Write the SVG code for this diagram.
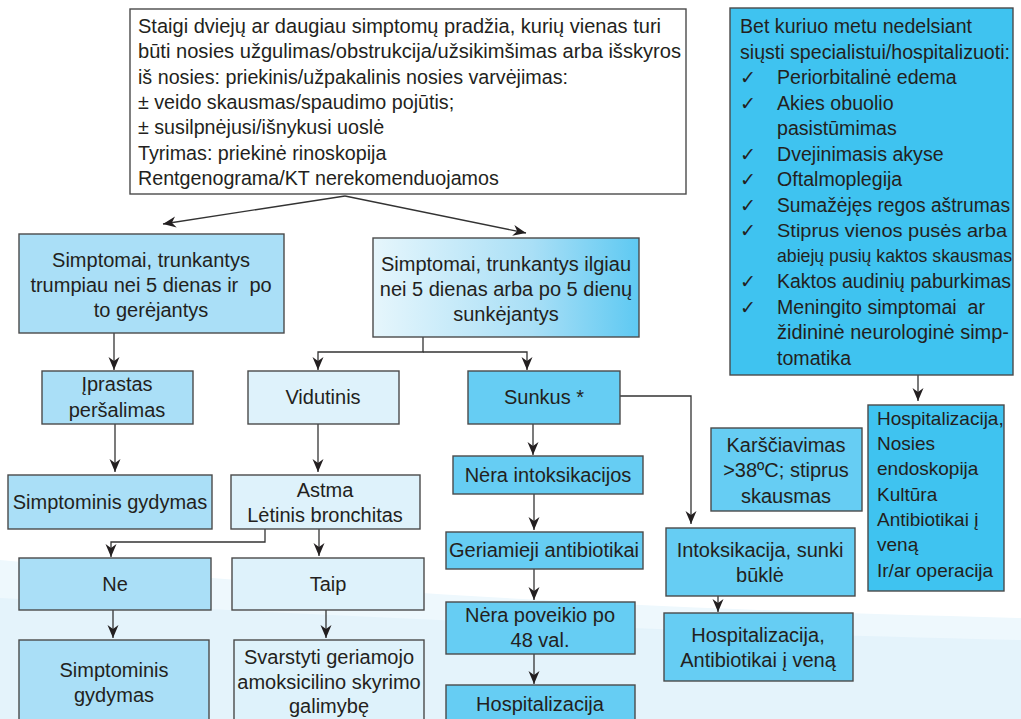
<svg xmlns="http://www.w3.org/2000/svg" width="1021" height="719" viewBox="0 0 1021 719">
<defs>
<style>
text{font-family:"Liberation Sans",Arial,sans-serif;fill:#231f20;font-size:20px}
.c{text-anchor:middle}
.tb{font-size:19.7px}
.p{font-size:19.6px}
.h{font-size:19px}
.box{stroke:#4a4a4a;stroke-width:1.4}
.w{fill:#ffffff}
.l1{fill:#aadff7}
.l0{fill:#def2fb}
.m{fill:#66cdf3}
.s{fill:#3fc3f0}
.con{fill:none;stroke:#333;stroke-width:1.3}
</style>
<linearGradient id="gmid" x1="0" y1="0" x2="1" y2="0">
<stop offset="0" stop-color="#e6f6fc"/>
<stop offset="0.6" stop-color="#a9dff6"/>
<stop offset="1" stop-color="#5ec9f2"/>
</linearGradient>
<marker id="ah" markerUnits="userSpaceOnUse" markerWidth="16" markerHeight="14" viewBox="-14 -7 16 14" refX="0" refY="0" orient="auto">
<path d="M-13,-5.5 L0,0 L-13,5.5 L-9,0 Z" fill="#231f20"/>
</marker>
</defs>
<rect width="1021" height="719" fill="#ffffff"/>
<g id="background">
<path d="M0,560 C250,582 520,606 1021,618 L1021,719 L0,719 Z" fill="#eef8fd"/>
<path d="M0,598 C300,614 600,630 1021,640 L1021,719 L0,719 Z" fill="#e4f3fb"/>
</g>

<g id="connectors">
<line class="con" x1="345" y1="196" x2="163" y2="224" marker-end="url(#ah)"/>
<line class="con" x1="345" y1="196" x2="526" y2="233" marker-end="url(#ah)"/>
<line class="con" x1="114" y1="333" x2="114" y2="370" marker-end="url(#ah)"/>
<polyline class="con" points="423,337 423,352 318,352 318,370" marker-end="url(#ah)"/>
<polyline class="con" points="423,352 527,352 527,370" marker-end="url(#ah)"/>
<line class="con" x1="115" y1="424" x2="115" y2="472" marker-end="url(#ah)"/>
<line class="con" x1="318" y1="424" x2="318" y2="472" marker-end="url(#ah)"/>
<polyline class="con" points="265,529 265,542 111,542 111,557" marker-end="url(#ah)"/>
<line class="con" x1="319" y1="529" x2="319" y2="556" marker-end="url(#ah)"/>
<line class="con" x1="113" y1="610" x2="113" y2="638" marker-end="url(#ah)"/>
<line class="con" x1="326" y1="610" x2="326" y2="638" marker-end="url(#ah)"/>
<line class="con" x1="533" y1="424" x2="533" y2="455" marker-end="url(#ah)"/>
<line class="con" x1="534" y1="494" x2="534" y2="530" marker-end="url(#ah)"/>
<line class="con" x1="534" y1="569" x2="534" y2="600" marker-end="url(#ah)"/>
<line class="con" x1="534" y1="654" x2="534" y2="684" marker-end="url(#ah)"/>
<polyline class="con" points="620,396 691,396 691,524" marker-end="url(#ah)"/>
<line class="con" x1="718" y1="596" x2="718" y2="612" marker-end="url(#ah)"/>
<line class="con" x1="918" y1="375" x2="918" y2="401" marker-end="url(#ah)"/>
</g>

<g id="n-top">
<rect class="box w" x="130" y="9" width="556" height="185"/>
<text class="tb" x="138" y="33" textLength="523" lengthAdjust="spacingAndGlyphs">Staigi dviejų ar daugiau simptomų pradžia, kurių vienas turi</text>
<text class="tb" x="138" y="58" textLength="543" lengthAdjust="spacingAndGlyphs">būti nosies užgulimas/obstrukcija/užsikimšimas arba išskyros</text>
<text class="tb" x="138" y="84">iš nosies: priekinis/užpakalinis nosies varvėjimas:</text>
<text class="tb" x="138" y="109">± veido skausmas/spaudimo pojūtis;</text>
<text class="tb" x="138" y="134">± susilpnėjusi/išnykusi uoslė</text>
<text class="tb" x="138" y="160">Tyrimas: priekinė rinoskopija</text>
<text class="tb" x="138" y="185">Rentgenograma/KT nerekomenduojamos</text>
</g>

<g id="n-panel">
<rect class="box s" x="730" y="8" width="283" height="367"/>
<text class="p" x="740" y="33">Bet kuriuo metu nedelsiant</text>
<text class="p" x="740" y="59" textLength="270" lengthAdjust="spacingAndGlyphs">siųsti specialistui/hospitalizuoti:</text>
<g>
<text class="h" x="740" y="84">✓</text><text class="p" x="777" y="84">Periorbitalinė edema</text>
<text class="h" x="740" y="110">✓</text><text class="p" x="777" y="110">Akies obuolio</text>
<text class="p" x="777" y="135">pasistūmimas</text>
<text class="h" x="740" y="161">✓</text><text class="p" x="777" y="161">Dvejinimasis akyse</text>
<text class="h" x="740" y="186">✓</text><text class="p" x="777" y="186">Oftalmoplegija</text>
<text class="h" x="740" y="212">✓</text><text class="p" x="777" y="212" textLength="233" lengthAdjust="spacingAndGlyphs">Sumažėjęs regos aštrumas</text>
<text class="h" x="740" y="237">✓</text><text x="777" y="237" style="font-size:18.5px" textLength="230" lengthAdjust="spacingAndGlyphs">Stiprus vienos pusės arba</text>
<text x="777" y="262" style="font-size:18.5px" textLength="235" lengthAdjust="spacingAndGlyphs">abiejų pusių kaktos skausmas</text>
<text class="h" x="740" y="288">✓</text><text class="p" x="777" y="288" textLength="234" lengthAdjust="spacingAndGlyphs">Kaktos audinių paburkimas</text>
<text class="h" x="740" y="314">✓</text><text class="p" x="777" y="314" xml:space="preserve">Meningito simptomai  ar</text>
<text class="p" x="777" y="339" textLength="232" lengthAdjust="spacingAndGlyphs">židininė neurologinė simp-</text>
<text class="p" x="777" y="365">tomatika</text>
</g>
</g>

<g id="n-short">
<rect class="box l1" x="19" y="234" width="265" height="99"/>
<text class="c" x="151" y="267">Simptomai, trunkantys</text>
<text class="c" x="151" y="292" xml:space="preserve">trumpiau nei 5 dienas ir  po</text>
<text class="c" x="151" y="317">to gerėjantys</text>
</g>

<g id="n-long">
<rect class="box" fill="url(#gmid)" x="373" y="238" width="266" height="99"/>
<text class="c" x="506" y="271">Simptomai, trunkantys ilgiau</text>
<text class="c" x="506" y="296">nei 5 dienas arba po 5 dienų</text>
<text class="c" x="506" y="321">sunkėjantys</text>
</g>

<g id="n-iprastas">
<rect class="box l1" x="42" y="371" width="151" height="53"/>
<text class="c" x="117" y="391">Įprastas</text>
<text class="c" x="117" y="417">peršalimas</text>
</g>

<g id="n-vidutinis">
<rect class="box l0" x="248" y="371" width="151" height="53"/>
<text class="c" x="323" y="404">Vidutinis</text>
</g>

<g id="n-sunkus">
<rect class="box m" x="468" y="371" width="152" height="53"/>
<text class="c" x="544" y="404">Sunkus *</text>
</g>

<g id="n-simpt1">
<rect class="box l1" x="8" y="475" width="204" height="54"/>
<text class="c" x="110" y="509">Simptominis gydymas</text>
</g>

<g id="n-astma">
<rect class="box l0" x="231" y="475" width="189" height="54"/>
<text class="c" x="325" y="497">Astma</text>
<text class="c" x="325" y="522">Lėtinis bronchitas</text>
</g>

<g id="n-ne">
<rect class="box l1" x="19" y="558" width="192" height="52"/>
<text class="c" x="115" y="591">Ne</text>
</g>

<g id="n-taip">
<rect class="box l0" x="232" y="558" width="192" height="52"/>
<text class="c" x="328" y="591">Taip</text>
</g>

<g id="n-simpt2">
<rect class="box l1" x="19" y="640" width="190" height="90"/>
<text class="c" x="114" y="677">Simptominis</text>
<text class="c" x="114" y="702">gydymas</text>
</g>

<g id="n-svarstyti">
<rect class="box l0" x="234" y="640" width="190" height="90"/>
<text class="c" x="329" y="664">Svarstyti geriamojo</text>
<text class="c" x="329" y="689">amoksicilino skyrimo</text>
<text class="c" x="329" y="713">galimybę</text>
</g>

<g id="n-nera-intoks">
<rect class="box m" x="453" y="456" width="190" height="38"/>
<text class="c" x="548" y="482">Nėra intoksikacijos</text>
</g>

<g id="n-geriamieji">
<rect class="box m" x="446" y="532" width="197" height="37"/>
<text class="c" x="544" y="557">Geriamieji antibiotikai</text>
</g>

<g id="n-nera-poveikio">
<rect class="box m" x="446" y="602" width="189" height="52"/>
<text class="c" x="540" y="622">Nėra poveikio po</text>
<text class="c" x="540" y="647">48 val.</text>
</g>

<g id="n-hosp1">
<rect class="box m" x="446" y="685" width="189" height="45"/>
<text class="c" x="540" y="711">Hospitalizacija</text>
</g>

<g id="n-karsciavimas">
<rect class="box m" x="711" y="428" width="151" height="83"/>
<text class="c" x="786" y="452">Karščiavimas</text>
<text class="c" x="786" y="477">&gt;38ºC; stiprus</text>
<text class="c" x="786" y="503">skausmas</text>
</g>

<g id="n-intoks">
<rect class="box m" x="666" y="528" width="189" height="68"/>
<text class="c" x="760" y="557">Intoksikacija, sunki</text>
<text class="c" x="760" y="582">būklė</text>
</g>

<g id="n-hosp2">
<rect class="box m" x="664" y="613" width="189" height="68"/>
<text class="c" x="758" y="642">Hospitalizacija,</text>
<text class="c" x="758" y="667">Antibiotikai į veną</text>
</g>

<g id="n-hosp3">
<rect class="box s" x="868" y="405" width="136" height="186"/>
<text class="h" x="877" y="425">Hospitalizacija,</text>
<text class="h" x="877" y="450">Nosies</text>
<text class="h" x="877" y="475">endoskopija</text>
<text class="h" x="877" y="501">Kultūra</text>
<text class="h" x="877" y="526">Antibiotikai į</text>
<text class="h" x="877" y="551">veną</text>
<text class="h" x="877" y="577">Ir/ar operacija</text>
</g>
</svg>
